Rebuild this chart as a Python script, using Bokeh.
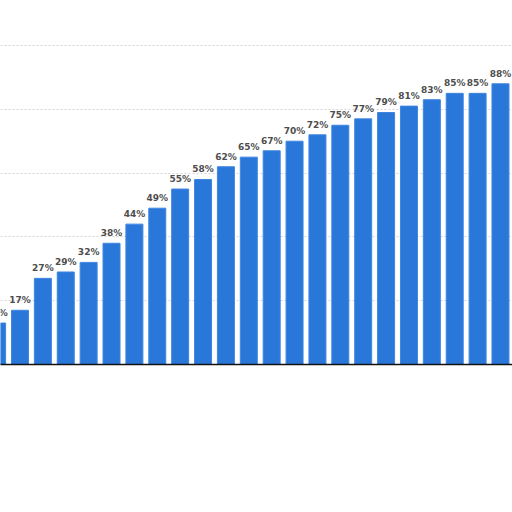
from bokeh.plotting import figure
from bokeh.models import ColumnDataSource, Range1d, Grid, FixedTicker, LinearAxis
from bokeh.core.properties import value
from bokeh.embed import file_html
from bokeh.resources import INLINE

# data (first bar is mostly cropped away)
values = [13, 17, 27, 29, 32, 38, 44, 49, 55, 58, 62, 65, 67, 70, 72, 75, 77, 79, 81, 83, 85, 85, 88]
positions = list(range(len(values)))
labels = [f"{v}%" for v in values]
grid_ticks = [20, 40, 60, 80, 100]

src = ColumnDataSource(dict(x=positions, top=values, label=labels))

W, H = 512, 512
p = figure(width=W, height=H, output_backend="svg", toolbar_location=None,
           x_axis_type=None, y_axis_type=None,
           x_range=Range1d(0.1477, 1 + (W - 19.5) / 22.88), y_range=Range1d(0, 364 / 3.19),
           min_border_left=0, min_border_right=0, min_border_top=0, min_border_bottom=H - 364)
p.outline_line_color = None
p.background_fill_color = "white"
p.border_fill_color = "white"

grid = Grid(dimension=1, ticker=FixedTicker(ticks=grid_ticks),
            grid_line_color="#d4d4d4", grid_line_dash="2 2", grid_line_width=1)
p.add_layout(grid)

p.vbar(x="x", top="top", bottom=0, width=0.743, source=src,
       fill_color="#2a77da", line_color="#3f86e0", line_width=1)

p.text(x="x", y="top", text="label", source=src,
       text_align="center", text_baseline="alphabetic", y_offset=-10,
       text_font=value("DejaVu Sans"), text_font_style="bold",
       text_font_size="9px", text_color="#4d4d4d")

xaxis = LinearAxis(axis_line_color="#111111", axis_line_width=1.5,
                   major_tick_line_color=None, minor_tick_line_color=None,
                   major_label_text_color=None, major_label_text_font_size="1px")
p.add_layout(xaxis, "below")

open("out.html", "w").write(file_html(p, INLINE))
